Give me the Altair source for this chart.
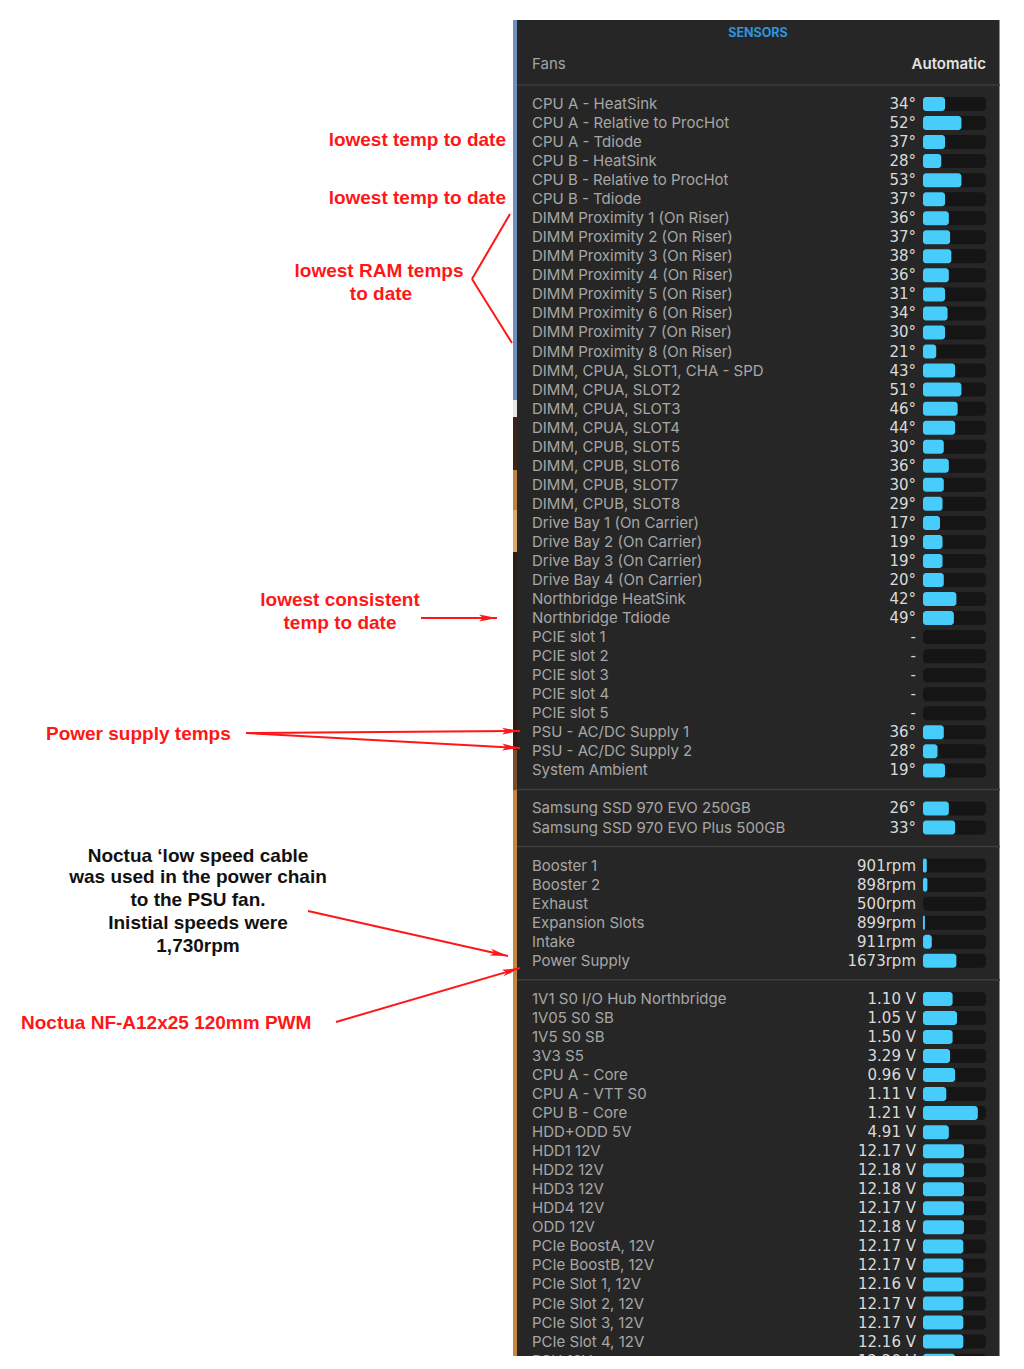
import altair as alt
import pandas as pd
import numpy as np

# ---------------- data ----------------
temp_labels = [
    "CPU A - HeatSink", "CPU A - Relative to ProcHot", "CPU A - Tdiode",
    "CPU B - HeatSink", "CPU B - Relative to ProcHot", "CPU B - Tdiode",
    "DIMM Proximity 1 (On Riser)", "DIMM Proximity 2 (On Riser)",
    "DIMM Proximity 3 (On Riser)", "DIMM Proximity 4 (On Riser)",
    "DIMM Proximity 5 (On Riser)", "DIMM Proximity 6 (On Riser)",
    "DIMM Proximity 7 (On Riser)", "DIMM Proximity 8 (On Riser)",
    "DIMM, CPUA, SLOT1, CHA - SPD", "DIMM, CPUA, SLOT2", "DIMM, CPUA, SLOT3",
    "DIMM, CPUA, SLOT4", "DIMM, CPUB, SLOT5", "DIMM, CPUB, SLOT6",
    "DIMM, CPUB, SLOT7", "DIMM, CPUB, SLOT8",
    "Drive Bay 1 (On Carrier)", "Drive Bay 2 (On Carrier)",
    "Drive Bay 3 (On Carrier)", "Drive Bay 4 (On Carrier)",
    "Northbridge HeatSink", "Northbridge Tdiode",
    "PCIE slot 1", "PCIE slot 2", "PCIE slot 3", "PCIE slot 4", "PCIE slot 5",
    "PSU - AC/DC Supply 1", "PSU - AC/DC Supply 2", "System Ambient",
]
temp_values = [34, 52, 37, 28, 53, 37, 36, 37, 38, 36, 31, 34, 30, 21, 43, 51,
               46, 44, 30, 36, 30, 29, 17, 19, 19, 20, 42, 49,
               None, None, None, None, None, 36, 28, 19]
temp_fill = [0.35, 0.61, 0.35, 0.29, 0.61, 0.35, 0.41, 0.43, 0.45, 0.41, 0.35,
             0.39, 0.35, 0.21, 0.51, 0.61, 0.55, 0.51, 0.33, 0.41, 0.33, 0.31,
             0.27, 0.31, 0.31, 0.33, 0.53, 0.49, 0, 0, 0, 0, 0, 0.33, 0.23, 0.35]

ssd_labels = ["Samsung SSD 970 EVO 250GB", "Samsung SSD 970 EVO Plus 500GB"]
ssd_values = [26, 33]
ssd_fill = [0.41, 0.51]

fan_labels = ["Booster 1", "Booster 2", "Exhaust", "Expansion Slots", "Intake",
              "Power Supply"]
fan_values = [901, 898, 500, 899, 911, 1673]
fan_fill = [0.06, 0.07, 0.0, 0.03, 0.14, 0.53]

volt_labels = [
    "1V1 S0 I/O Hub Northbridge", "1V05 S0 SB", "1V5 S0 SB", "3V3 S5",
    "CPU A - Core", "CPU A - VTT S0", "CPU B - Core", "HDD+ODD 5V",
    "HDD1 12V", "HDD2 12V", "HDD3 12V", "HDD4 12V", "ODD 12V",
    "PCIe BoostA, 12V", "PCIe BoostB, 12V", "PCIe Slot 1, 12V",
    "PCIe Slot 2, 12V", "PCIe Slot 3, 12V", "PCIe Slot 4, 12V", "PSU 12V",
]
volt_values = [1.10, 1.05, 1.50, 3.29, 0.96, 1.11, 1.21, 4.91, 12.17, 12.18,
               12.18, 12.17, 12.18, 12.17, 12.17, 12.16, 12.17, 12.17, 12.16,
               12.20]
volt_fill = [0.47, 0.54, 0.47, 0.43, 0.51, 0.37, 0.87, 0.41, 0.65, 0.65, 0.65,
             0.65, 0.65, 0.64, 0.64, 0.64, 0.64, 0.64, 0.64, 0.51]

# ---------------- layout (pixel units of the page) ----------------
ROW0, STEP = 104.0, 19.04
LABEL_X, VALUE_X = 532, 916
TRACK_X0, TRACK_W, BAR_H = 923, 63, 14
PANEL_L, PANEL_R, PANEL_T, PANEL_B = 517, 1000, 20, 1356

rows = []
def add(labels, vals, fills, start, fmt):
    for i, (l, v, f) in enumerate(zip(labels, vals, fills)):
        rows.append(dict(label=l, value=fmt(v), fill=f, idx=start + i))

add(temp_labels, temp_values, temp_fill, 0, lambda v: "-" if v is None else f"{v}°")
add(ssd_labels, ssd_values, ssd_fill, 37, lambda v: f"{v}°")
add(fan_labels, fan_values, fan_fill, 40, lambda v: f"{v}rpm")
add(volt_labels, volt_values, volt_fill, 47, lambda v: f"{v:.2f} V")
df = pd.DataFrame(rows)
df["y"] = ROW0 + STEP * df["idx"]
df["y0"] = df["y"] - BAR_H / 2
df["y1"] = df["y"] + BAR_H / 2
df["tx0"] = TRACK_X0
df["tx1"] = TRACK_X0 + TRACK_W
df["fx1"] = TRACK_X0 + TRACK_W * df["fill"]
df["lx"] = LABEL_X
df["vx"] = VALUE_X
fills = df[df["fill"] > 0]

seps = pd.DataFrame({"y": [85.0] + [ROW0 + STEP * k for k in (36, 39, 46)]})
seps["x0"], seps["x1"] = PANEL_L, PANEL_R

panel = pd.DataFrame([dict(x0=PANEL_L, x1=PANEL_R, y0=PANEL_T, y1=PANEL_B)])
edge = pd.DataFrame([dict(x0=PANEL_R - 1, x1=PANEL_R, y0=PANEL_T, y1=PANEL_B)])
strip = pd.DataFrame({
    "y0": [20, 400, 417, 470, 510, 552, 750, 790],
    "y1": [400, 417, 470, 510, 552, 750, 790, 1356],
    "c": ["#6f8fbf", "#e6e6e6", "#3a2418", "#c08440", "#d9a866", "#2c1e16",
          "#7a4e28", "#c4873f"],
})
strip["x0"], strip["x1"] = 513, PANEL_L

header = pd.DataFrame([
    dict(t="SENSORS", x=758, y=33, a="center", c="#2f93dd", s=12.5, w=700),
    dict(t="Fans", x=LABEL_X, y=64, a="left", c="#a3a3a3", s=15, w=400),
    dict(t="Automatic", x=986, y=64, a="right", c="#e2e2e2", s=15, w=600),
])

RED, BLACK = "#ff1717", "#111111"
notes = pd.DataFrame([
    dict(t="lowest temp to date", x=506, y=140, a="right", c=RED),
    dict(t="lowest temp to date", x=506, y=198, a="right", c=RED),
    dict(t="lowest RAM temps", x=379, y=271, a="center", c=RED),
    dict(t="to date", x=381, y=294, a="center", c=RED),
    dict(t="lowest consistent", x=340, y=600, a="center", c=RED),
    dict(t="temp to date", x=340, y=623, a="center", c=RED),
    dict(t="Power supply temps", x=46, y=734, a="left", c=RED),
    dict(t="Noctua \u2018low speed cable", x=198, y=856, a="center", c=BLACK),
    dict(t="was used in the  power chain", x=198, y=877, a="center", c=BLACK),
    dict(t="to the PSU fan.", x=198, y=900, a="center", c=BLACK),
    dict(t="Inistial speeds were", x=198, y=923, a="center", c=BLACK),
    dict(t="1,730rpm", x=198, y=946, a="center", c=BLACK),
    dict(t="Noctua NF-A12x25 120mm PWM", x=21, y=1023, a="left", c=RED),
])

lines = pd.DataFrame([
    dict(x0=472, y0=279, x1=510, y1=214, head=0),
    dict(x0=472, y0=279, x1=512, y1=343, head=0),
    dict(x0=421, y0=618, x1=497, y1=618, head=1),
    dict(x0=246, y0=733, x1=520, y1=731, head=1),
    dict(x0=246, y0=733, x1=520, y1=748, head=1),
    dict(x0=308, y0=911, x1=508, y1=956, head=1),
    dict(x0=336, y0=1022, x1=520, y1=968, head=1),
])
HEAD_R = 9.0
heads = lines[lines["head"] == 1].copy()
dx, dy = heads["x1"] - heads["x0"], heads["y1"] - heads["y0"]
L = np.hypot(dx, dy)
heads["ang"] = np.degrees(np.arctan2(dy, dx)) % 360
heads["hx"] = heads["x1"] - HEAD_R * dx / L
heads["hy"] = heads["y1"] - HEAD_R * dy / L

# ---------------- chart ----------------
W, H = 1008, 1348
XS = alt.Scale(domain=[8, 8 + W], nice=False, zero=False)
YS = alt.Scale(domain=[8, 8 + H], nice=False, zero=False, reverse=True)

def X(f):
    return alt.X(f, type="quantitative", scale=XS, axis=None)

def Y(f):
    return alt.Y(f, type="quantitative", scale=YS, axis=None)

PANEL_FONT = "Inter"
VALUE_FONT = "DejaVu Sans"
NOTE_FONT = "Liberation Sans"

bg = alt.Chart(panel).mark_rect(color="#262626").encode(
    x=X("x0"), x2="x1", y=Y("y0"), y2="y1")
edge_l = alt.Chart(edge).mark_rect(color="#8c8c8c").encode(
    x=X("x0"), x2="x1", y=Y("y0"), y2="y1")
strip_l = alt.Chart(strip).mark_rect().encode(
    x=X("x0"), x2="x1", y=Y("y0"), y2="y1",
    color=alt.Color("c:N", scale=None))
sep_l = alt.Chart(seps).mark_rule(color="#3d3d3d", strokeWidth=1.5).encode(
    x=X("x0"), x2="x1", y=Y("y"))
track_l = alt.Chart(df).mark_rect(color="#151515", cornerRadius=4, clip=True).encode(
    x=X("tx0"), x2="tx1", y=Y("y0"), y2="y1")
fill_l = alt.Chart(fills).mark_rect(color="#46cdfb", cornerRadius=3, clip=True).encode(
    x=X("tx0"), x2="fx1", y=Y("y0"), y2="y1")
label_l = alt.Chart(df).mark_text(
    align="left", baseline="middle", font=PANEL_FONT, fontSize=15,
    color="#a7a7a7", clip=True).encode(x=X("lx"), y=Y("y"), text="label")
value_l = alt.Chart(df).mark_text(
    align="right", baseline="middle", font=VALUE_FONT, fontSize=15,
    color="#dadada", clip=True).encode(
    x=X("vx"), y=Y("y"), text="value")

head_layers = []
for i in range(len(header)):
    r = header.iloc[i]
    head_layers.append(
        alt.Chart(header.iloc[[i]]).mark_text(
            baseline="middle", font=PANEL_FONT, align=r["a"], fontSize=float(r["s"]),
            fontWeight=int(r["w"]), color=r["c"]).encode(x=X("x"), y=Y("y"), text="t"))

note_layers = []
for a in ["left", "center", "right"]:
    sub = notes[notes["a"] == a]
    note_layers.append(
        alt.Chart(sub).mark_text(
            baseline="middle", align=a, font=NOTE_FONT, fontSize=19,
            fontWeight="bold").encode(
            x=X("x"), y=Y("y"), text="t", color=alt.Color("c:N", scale=None)))

line_l = alt.Chart(lines).mark_rule(color=RED, strokeWidth=2).encode(
    x=X("x0"), y=Y("y0"), x2="x1", y2="y1")
arrow_l = alt.Chart(heads).mark_point(
    shape="M1,0L-1,-0.38L-0.55,0L-1,0.38Z", filled=True, color=RED,
    opacity=1, size=4 * HEAD_R * HEAD_R).encode(
    x=X("hx"), y=Y("hy"), angle=alt.Angle("ang:Q", scale=None))

chart = alt.layer(
    bg, strip_l, edge_l, sep_l, track_l, fill_l, label_l, value_l,
    *head_layers, *note_layers, line_l, arrow_l
).properties(
    width=W, height=H, padding=0, background="white",
    autosize=alt.AutoSizeParams(type="none"),
).configure_view(stroke=None)

chart.save("out.html", embed_options={"renderer": "svg", "actions": False})
